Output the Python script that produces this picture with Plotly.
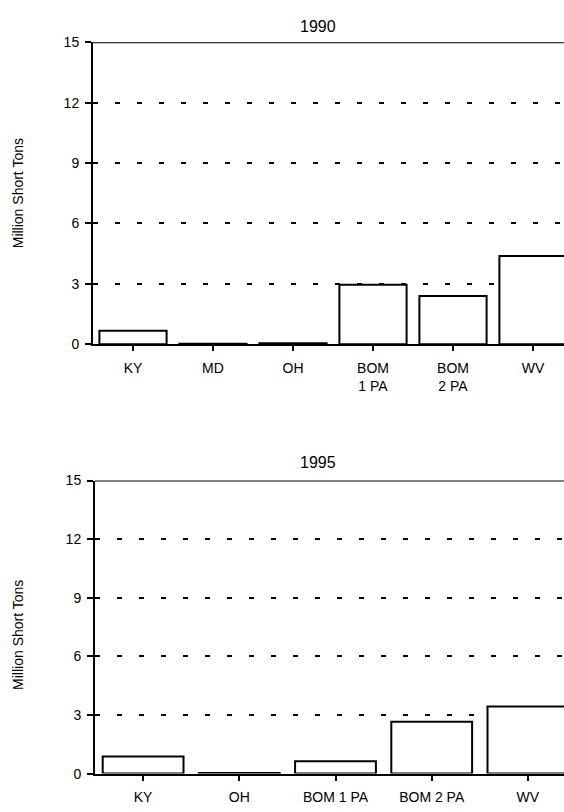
import plotly.graph_objects as go

# ---- data ----
cats_1990 = ["KY", "MD", "OH", "BOM<br>1 PA", "BOM<br>2 PA", "WV"]
vals_1990 = [0.67, 0.02, 0.05, 2.95, 2.40, 4.38]

cats_1995 = ["KY", "OH", "BOM 1 PA", "BOM 2 PA", "WV"]
vals_1995 = [0.87, 0.03, 0.63, 2.66, 3.43]

titles = ["1990", "1995"]
y_title = "Million Short Tons"
y_ticks = [0, 3, 6, 9, 12, 15]

W, H = 564, 812
FONT = "Liberation Sans, Arial, Helvetica, sans-serif"

def py(px):  # pixel from top -> paper y
    return 1 - px / H

def pxx(px):
    return px / W

fig = go.Figure()

bar_style = dict(marker=dict(color="white", line=dict(color="black", width=2)),
                 width=0.84, showlegend=False, hoverinfo="x+y")

fig.add_trace(go.Bar(x=cats_1990, y=vals_1990, xaxis="x", yaxis="y", **bar_style))
fig.add_trace(go.Bar(x=cats_1995, y=vals_1995, xaxis="x2", yaxis="y2", **bar_style))

# plot areas (pixels)
top_y = (35, 343)
bot_y = (482, 781)
top_x0 = 93
bot_x0 = 95

xa_common = dict(showline=True, linecolor="black", linewidth=2, ticks="outside",
                 ticklen=5, tickwidth=1.5, tickcolor="black", showgrid=False,
                 zeroline=False, tickfont=dict(family=FONT, size=14, color="black"),
                 ticklabelstandoff=5, fixedrange=True, type="category")
ya_common = dict(showline=True, linecolor="black", linewidth=2, ticks="outside",
                 ticklen=6, tickwidth=1.5, tickcolor="black", showgrid=True,
                 gridcolor="black", gridwidth=2, griddash="5px,17px",
                 zeroline=False, range=[0, 15], tickvals=y_ticks,
                 tickfont=dict(family=FONT, size=14, color="black"),
                 ticklabelstandoff=3, fixedrange=True)

fig.update_layout(
    width=W, height=H,
    margin=dict(l=0, r=0, t=0, b=0),
    paper_bgcolor="white", plot_bgcolor="white",
    bargap=0.16,
    xaxis=dict(domain=[pxx(top_x0), 1], anchor="y",
               range=[-0.5, -0.5 + (W - top_x0) / 80.0], **xa_common),
    yaxis=dict(domain=[py(top_y[1]), py(top_y[0])], anchor="x", **ya_common),
    xaxis2=dict(domain=[pxx(bot_x0), 1], anchor="y2",
                range=[-0.5, -0.5 + (W - bot_x0) / 96.2], **xa_common),
    yaxis2=dict(domain=[py(bot_y[1]), py(bot_y[0])], anchor="x2", **ya_common),
)

# solid top border lines
for xref, yref in (("x domain", "y"), ("x2 domain", "y2")):
    fig.add_shape(type="line", xref=xref, yref=yref, x0=0, x1=1, y0=15, y1=15,
                  line=dict(color="black", width=2), layer="above")

# titles
for t, ypix in zip(titles, (19, 464)):
    fig.add_annotation(text=t, x=pxx(318), y=py(ypix), xref="paper", yref="paper",
                       showarrow=False, xanchor="center", yanchor="middle",
                       font=dict(family=FONT, size=16, color="black"))

for ypix in ((top_y[0] + top_y[1]) / 2, (bot_y[0] + bot_y[1]) / 2 + 8):
    fig.add_annotation(text=y_title, x=pxx(18), y=py(ypix), xref="paper", yref="paper",
                       showarrow=False, xanchor="center", yanchor="middle", textangle=-90,
                       font=dict(family=FONT, size=14, color="black"))

fig.write_html(
    "out.html",
    config={"displayModeBar": False},
    post_script="document.body.style.margin='0';document.body.style.padding='0';"
                "document.documentElement.style.overflow='hidden';",
)
